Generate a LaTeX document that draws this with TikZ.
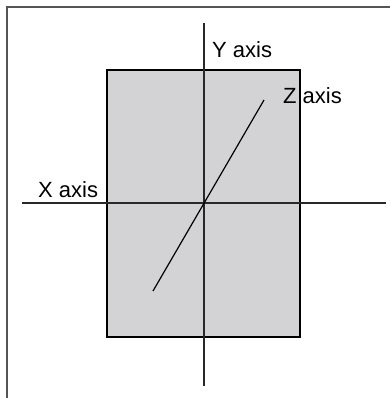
\documentclass[tikz,border=0pt]{standalone}
\usepackage{fontspec}
\setmainfont{Liberation Sans}
\usepackage{tikz}
\usetikzlibrary{positioning}
\definecolor{panelgray}{RGB}{211,211,213}
\definecolor{framegray}{RGB}{85,85,85}
\definecolor{axisgray}{RGB}{40,40,40}

\begin{document}
\begin{tikzpicture}[x=1pt, y=-1pt,
    axislabel/.style={anchor=base west, inner sep=0pt, font=\fontsize{22}{26}\selectfont},
    axisline/.style={draw=axisgray, line width=1.3pt}]
    \useasboundingbox (0,0) rectangle (390,398);

    % Frame (left and top only)
    \draw[framegray, line width=2pt] (7,398) -- (7,7) -- (390,7);

    % Shaded panel
    \draw[fill=panelgray, line width=1.2pt] (107,70) rectangle (300,337);

    % Axes
    \coordinate (xl) at (22,203);
    \coordinate (xr) at (386,203);
    \coordinate (yt) at (204,23);
    \coordinate (yb) at (204,386);
    \coordinate (zb) at (153,291);
    \coordinate (zt) at (264,100);
    \draw[axisline] (xl) -- (xr);
    \draw[axisline] (yt) -- (yb);
    \draw[line width=1.2pt] (zb) -- (zt);

    \node[axislabel] (ylab) at (212,58) {Y axis};
    \node[axislabel] (zlab) at (283,104) {Z axis};
    \node[axislabel] (xlab) at (38,197) {X axis};
\end{tikzpicture}
\end{document}
